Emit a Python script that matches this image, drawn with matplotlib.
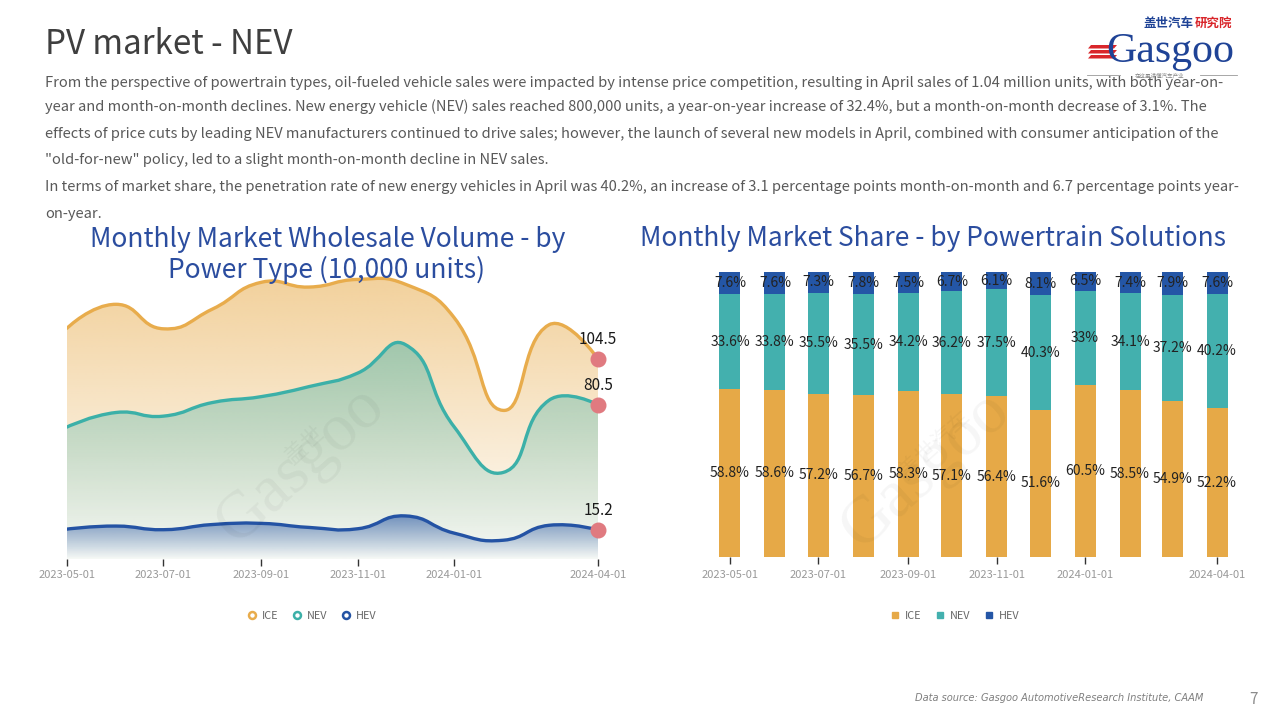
import numpy as np
import pandas as pd
import matplotlib
matplotlib.use('Agg')
import matplotlib.pyplot as plt
import matplotlib.dates as mdates
import matplotlib.colors as mcolors
from matplotlib.path import Path
from matplotlib.patches import PathPatch, Polygon
from matplotlib.lines import Line2D

plt.rcParams['font.family'] = ['Noto Sans CJK SC', 'DejaVu Sans']

# monthly data, 2023-05 .. 2024-04
months = pd.date_range('2023-05-01', '2024-04-01', freq='MS')
ice_volume = [120.5, 133.0, 120.2, 130.5, 144.5, 142.0, 146.0, 143.5, 126.0, 77.6, 122.3, 104.5]
nev_volume = [68.9, 76.5, 74.6, 81.7, 84.8, 90.0, 97.1, 112.0, 69.0, 45.2, 82.9, 80.5]
hev_volume = [15.6, 17.2, 15.3, 18.0, 18.6, 16.5, 15.8, 22.5, 13.5, 9.8, 17.6, 15.2]

ice_share = [58.8, 58.6, 57.2, 56.7, 58.3, 57.1, 56.4, 51.6, 60.5, 58.5, 54.9, 52.2]
nev_share = [33.6, 33.8, 35.5, 35.5, 34.2, 36.2, 37.5, 40.3, 33.0, 34.1, 37.2, 40.2]
hev_share = [7.6, 7.6, 7.3, 7.8, 7.5, 6.7, 6.1, 8.1, 6.5, 7.4, 7.9, 7.6]

tick_dates = ['2023-05-01', '2023-07-01', '2023-09-01', '2023-11-01', '2024-01-01', '2024-04-01']
series_names = ['ICE', 'NEV', 'HEV']

c_ice = '#e8ac4c'
c_nev = '#3cb0a8'
c_hev = '#2453a4'
c_bar_ice = '#e6a947'
c_bar_nev = '#43b0ae'
c_bar_hev = '#2456a6'
c_title = '#2b4d9f'
c_dot = '#e07a80'

W, H = 1280, 720
fig = plt.figure(figsize=(12.8, 7.2), dpi=100)
fig.patch.set_facecolor('white')
renderer = fig.canvas.get_renderer()


def fx(x):
    return x / W


def fy(y):
    return 1 - y / H


def fit_text(x, y, s, width_px, size=12, **kw):
    t = fig.text(fx(x), fy(y), s, fontsize=size, **kw)
    w = t.get_window_extent(renderer).width
    t.set_fontsize(size * width_px / w)
    return t


# ---------- header ----------
fit_text(45, 44, 'PV market - NEV', 248, size=22, color='#3f3f3f', va='center')

para = [
    'From the perspective of powertrain types, oil-fueled vehicle sales were impacted by intense price competition, resulting in April sales of 1.04 million units, with both year-on-',
    'year and month-on-month declines. New energy vehicle (NEV) sales reached 800,000 units, a year-on-year increase of 32.4%, but a month-on-month decrease of 3.1%. The',
    'effects of price cuts by leading NEV manufacturers continued to drive sales; however, the launch of several new models in April, combined with consumer anticipation of the',
    '"old-for-new" policy, led to a slight month-on-month decline in NEV sales.',
    'In terms of market share, the penetration rate of new energy vehicles in April was 40.2%, an increase of 3.1 percentage points month-on-month and 6.7 percentage points year-',
    'on-year.',
]
line_y = [83, 107, 134, 160, 187, 214]
t0 = fit_text(45, line_y[0], para[0], 1177, size=10, color='#595959', va='center')
psize = t0.get_fontsize()
for s, y in zip(para[1:], line_y[1:]):
    fig.text(fx(45), fy(y), s, fontsize=psize, color='#595959', va='center')

# logo
fig.text(fx(1194), fy(23), '盖世汽车', fontsize=9, color='#1f4396', fontweight='bold',
         ha='right', va='center')
fig.text(fx(1195), fy(23), '研究院', fontsize=9, color='#d9262b', fontweight='bold',
         ha='left', va='center')
fit_text(1106, 62, 'Gasgoo', 128, size=22, color='#1f4396', va='baseline',
         family=['Liberation Serif', 'DejaVu Serif'])
for k in range(3):
    yy = 45 + k * 5
    fig.patches.append(Polygon([(fx(1088), fy(yy + 3.5)), (fx(1114), fy(yy + 3.5)),
                                (fx(1117), fy(yy)), (fx(1091), fy(yy))],
                               closed=True, transform=fig.transFigure,
                               facecolor='#d9262b', edgecolor='none'))
fig.lines.append(Line2D([fx(1087), fx(1120)], [fy(75), fy(75)], transform=fig.transFigure,
                        color='#999999', lw=0.6))
fig.lines.append(Line2D([fx(1200), fx(1237)], [fy(75), fy(75)], transform=fig.transFigure,
                        color='#999999', lw=0.6))
fig.text(fx(1160), fy(75), '在这里读懂汽车产业', fontsize=4, color='#888888', ha='center', va='center')

# footer
fit_text(915, 698, 'Data source: Gasgoo AutomotiveResearch Institute, CAAM', 290, size=8,
         color='#7f7f7f', va='center', style='italic', family=['DejaVu Sans'])
fig.text(fx(1253), fy(700), '7', fontsize=11, color='#8c8c8c', ha='center', va='center')


# ---------- left: area chart ----------
def smooth_path(ax, x, y, smooth=0.5):
    # echarts-like smoothing computed in display space
    pts = ax.transData.transform(np.column_stack([x, y]))
    verts = [pts[0]]
    codes = [Path.MOVETO]
    cp0 = pts[0]
    n = len(pts)
    for k in range(1, n):
        p, prev = pts[k], pts[k - 1]
        if k == n - 1:
            ncp0 = p
            v = np.zeros(2)
            r = 0.5
        else:
            nxt = pts[k + 1]
            v = nxt - prev
            l0 = np.hypot(*(p - prev))
            l1 = np.hypot(*(nxt - p))
            r = l1 / (l0 + l1)
            ncp0 = p - v * smooth * (1 - r)
        verts += [cp0, ncp0, p]
        codes += [Path.CURVE4] * 3
        cp0 = p + v * smooth * r
    return ax.transData.inverted().transform(np.array(verts)), codes


ax1_left, ax1_right, ax1_bottom = 67, 598, 559
ymax1 = 160
ppu = 1.915
ax1 = fig.add_axes([fx(ax1_left), fy(ax1_bottom), (ax1_right - ax1_left) / W, ymax1 * ppu / H])
xd = mdates.date2num(months)
ax1.set_xlim(xd[0], xd[-1])
ax1.set_ylim(0, ymax1)

series = [(ice_volume, c_ice, 0.55, 0.03), (nev_volume, c_nev, 0.45, 0.04), (hev_volume, c_hev, 0.6, 0.0)]
z = 1
for vals, col, a_top, a_bot in series:
    verts, codes = smooth_path(ax1, xd, vals)
    line = PathPatch(Path(verts, codes), facecolor='none', edgecolor=col, lw=2.4,
                     transform=ax1.transData, zorder=z + 1, capstyle='round')
    area_v = np.vstack([verts, [[xd[-1], 0], [xd[0], 0], [xd[0], 0]]])
    area_c = codes + [Path.LINETO, Path.LINETO, Path.CLOSEPOLY]
    clip = PathPatch(Path(area_v, area_c), facecolor='none', edgecolor='none',
                     transform=ax1.transData)
    ax1.add_patch(clip)
    grad = np.zeros((256, 1, 4))
    grad[:, :, :3] = mcolors.to_rgb(col)
    grad[:, 0, 3] = np.linspace(a_top, a_bot, 256)
    im = ax1.imshow(grad, aspect='auto', extent=[xd[0], xd[-1], 0, max(vals)],
                    origin='upper', zorder=z, interpolation='bilinear')
    im.set_clip_path(clip)
    ax1.add_patch(line)
    ax1.plot(xd[-1], vals[-1], 'o', ms=10.5, color=c_dot, zorder=10, clip_on=False)
    ax1.annotate(f'{vals[-1]:g}', (xd[-1], vals[-1]), xytext=(0, 8), textcoords='offset points',
                 ha='center', va='bottom', fontsize=11, color='#1a1a1a', zorder=11)
    z += 2

ax1.set_xlim(xd[0], xd[-1])
ax1.set_ylim(0, ymax1)
ax1.set_yticks([])
for sp in ax1.spines.values():
    sp.set_visible(False)
ax1.set_xticks(mdates.date2num(pd.to_datetime(tick_dates)))
ax1.set_xticklabels(tick_dates)
ax1.tick_params(axis='x', length=5, width=1, color='#333333', pad=3, labelsize=8, labelcolor='#999999')

# watermark
fig.text(fx(305), fy(445), '盖世', fontsize=16, color='#000000', alpha=0.04, rotation=42,
         ha='center', va='center')
fig.text(fx(300), fy(465), 'Gasgoo', fontsize=48, color='#000000', alpha=0.04, rotation=42,
         ha='center', va='center', family=['Liberation Serif', 'DejaVu Serif'])

tl = fit_text(90, 240, 'Monthly Market Wholesale Volume - by', 475, size=17, color=c_title, va='center')
fig.text(fx(327), fy(270), 'Power Type (10,000 units)', fontsize=tl.get_fontsize(),
         color=c_title, va='center', ha='center')

h1 = [Line2D([], [], marker='o', ls='none', markerfacecolor='white', markeredgecolor=c,
             markeredgewidth=1.8, markersize=5) for c in (c_ice, c_nev, c_hev)]
fig.legend(h1, series_names, loc='center', bbox_to_anchor=(fx(312), fy(616)), ncol=3,
           frameon=False, fontsize=7.8, labelcolor='#666666', handlelength=0.8,
           handletextpad=0.5, columnspacing=1.3)

# ---------- right: 100% stacked bars ----------
px_first, px_last = 730, 1217
ax2_left, ax2_right, ax2_bottom, ax2_top = 700, 1247, 557, 272
ax2 = fig.add_axes([fx(ax2_left), fy(ax2_bottom), (ax2_right - ax2_left) / W,
                    (ax2_bottom - ax2_top) / H])
ppd = (px_last - px_first) / (xd[-1] - xd[0])
ax2.set_xlim(xd[0] - (px_first - ax2_left) / ppd, xd[-1] + (ax2_right - px_last) / ppd)
ax2.set_ylim(0, 100)

bw = 21 / ppd
bottom = np.zeros(len(xd))
for vals, col in [(ice_share, c_bar_ice), (nev_share, c_bar_nev), (hev_share, c_bar_hev)]:
    vals = np.array(vals)
    ax2.bar(xd, vals, width=bw, bottom=bottom, color=col, edgecolor='none', zorder=2)
    for xi, b, v in zip(xd, bottom, vals):
        ax2.text(xi, b + v / 2, f'{v:g}%', ha='center', va='center', fontsize=10,
                 color='#222222', zorder=3)
    bottom = bottom + vals

ax2.set_yticks([])
for sp in ax2.spines.values():
    sp.set_visible(False)
ax2.set_xticks(mdates.date2num(pd.to_datetime(tick_dates)))
ax2.set_xticklabels(tick_dates)
ax2.tick_params(axis='x', length=5, width=1, color='#333333', pad=4, labelsize=8, labelcolor='#999999')

fig.text(fx(935), fy(445), '盖世汽车', fontsize=16, color='#000000', alpha=0.04, rotation=42,
         ha='center', va='center')
fig.text(fx(925), fy(470), 'Gasgoo', fontsize=48, color='#000000', alpha=0.04, rotation=42,
         ha='center', va='center', family=['Liberation Serif', 'DejaVu Serif'])

fit_text(640, 239, 'Monthly Market Share - by Powertrain Solutions', 585, size=17,
         color=c_title, va='center')

h2 = [Line2D([], [], marker='s', ls='none', color=c, markersize=5)
      for c in (c_bar_ice, c_bar_nev, c_bar_hev)]
fig.legend(h2, series_names, loc='center', bbox_to_anchor=(fx(955), fy(616)), ncol=3,
           frameon=False, fontsize=7.8, labelcolor='#666666', handlelength=0.8,
           handletextpad=0.5, columnspacing=1.3)

fig.savefig('out.png', dpi=100)
